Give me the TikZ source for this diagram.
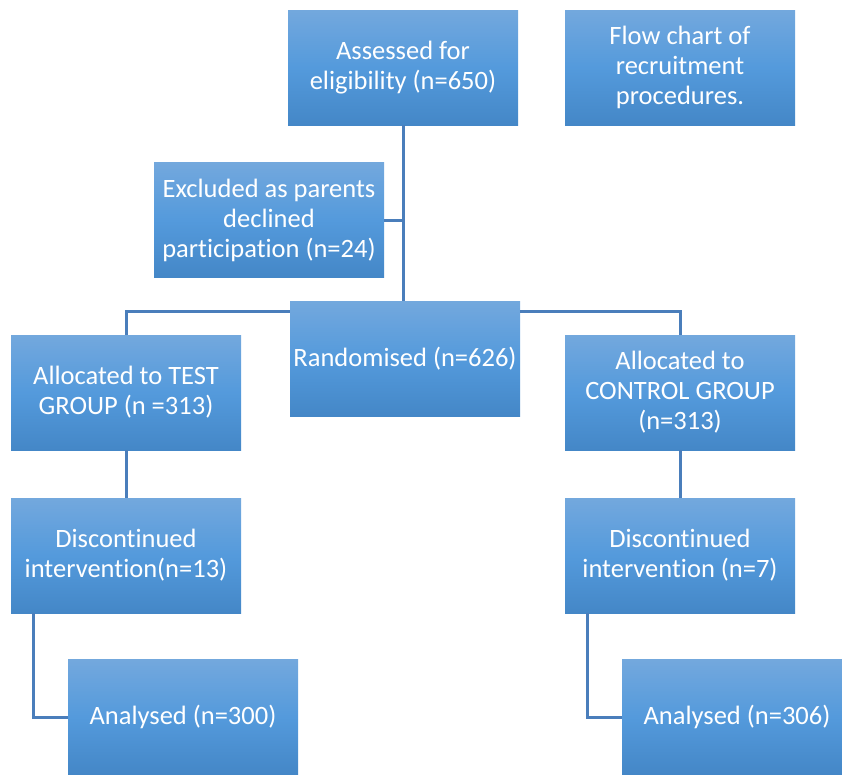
\documentclass[tikz,border=0pt]{standalone}
\usepackage{fontspec}
\setmainfont[Ligatures=NoCommon]{Carlito}
\usepackage{tikz}
\usetikzlibrary{calc}
\definecolor{boxtop}{RGB}{115,168,221}
\definecolor{boxmid}{RGB}{84,154,220}
\definecolor{boxbot}{RGB}{68,135,199}
\definecolor{linkblue}{RGB}{74,126,187}
\tikzset{
  box/.style={rectangle, minimum width=230pt, minimum height=115pt, inner sep=0pt,
    top color=boxtop, bottom color=boxbot, middle color=boxmid,
    text=white, align=center, font=\fontsize{26.5}{30}\selectfont},
  link/.style={draw=linkblue, line width=3pt}
}
\begin{document}
\begin{tikzpicture}[x=1pt,y=-1pt]
\useasboundingbox (0,0) rectangle (842,774);
\node[box] (assess) at (403,67.5) {Assessed for\\eligibility (n=650)};
\node[box] (title) at (680,67.5) {Flow chart of\\recruitment\\procedures.};
\node[box] (excl) at (269,220) {Excluded as parents\\declined\\participation (n=24)};
\node[box] (rand) at (405,358.5) {Randomised (n=626)};
\node[box] (test) at (126,392.5) {Allocated to TEST\\GROUP (n =313)};
\node[box] (ctrl) at (680,392.5) {Allocated to\\CONTROL GROUP\\(n=313)};
\node[box] (disc1) at (126,555.5) {Discontinued\\intervention(n=13)};
\node[box] (disc2) at (680,555.5) {Discontinued\\intervention (n=7)};
\node[box] (ana1) at (183,717) {Analysed (n=300)};
\node[box] (ana2) at (737,717) {Analysed (n=306)};
% connectors
\draw[link] (assess.south) -- (assess.south |- rand.north);
\draw[link] (excl.east) -- (excl.east -| assess.south);
\draw[link] ([yshift=-11pt]rand.north west) -| (test.north);
\draw[link] ([yshift=-11pt]rand.north east) -| (ctrl.north);
\draw[link] (test.south) -- (disc1.north);
\draw[link] (ctrl.south) -- (disc2.north);
\draw[link] ([xshift=23pt]disc1.south west) |- (ana1.west);
\draw[link] ([xshift=23pt]disc2.south west) |- (ana2.west);
\end{tikzpicture}
\end{document}
